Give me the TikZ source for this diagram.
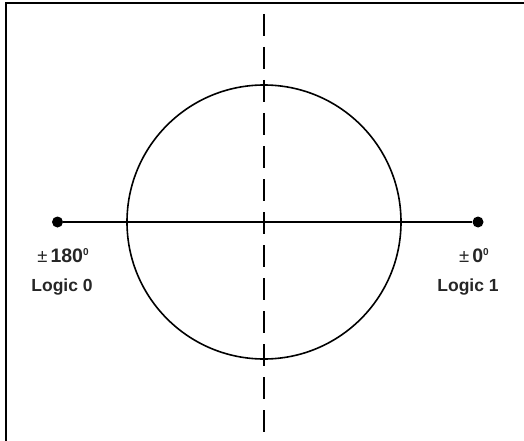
\documentclass[tikz,border=0pt]{standalone}
\usepackage{fontspec}
\setmainfont{Liberation Sans}
\newcommand{\degsup}[1]{\raisebox{6.5pt}{\fontsize{10}{11}\selectfont #1}}
\newcommand{\pmsign}{{\fontsize{18.5}{20}\selectfont\mdseries ±}}
\begin{document}
\begin{tikzpicture}[x=1pt,y=-1pt,
  lbl/.style={font=\bfseries\fontsize{17.5}{20}\selectfont, text=black!85, inner sep=0pt, anchor=base},
  ang/.style={font=\bfseries\fontsize{19.5}{22}\selectfont, text=black!85, inner sep=0pt, anchor=base},
  dotnode/.style={circle, fill=black, inner sep=0pt, minimum size=11pt}]
\useasboundingbox (0,0) rectangle (524,441);
\draw[line width=2pt] (5.5,441) -- (5.5,3.5) -- (524,3.5);
\coordinate (c) at (264,222);
\draw[line width=1.6pt] (c) circle (137);
\node[dotnode] (l) at (57.5,222) {};
\node[dotnode] (r) at (478,222) {};
\draw[line width=2pt] (l) -- (r);
\coordinate (t) at (264,14);
\coordinate (b) at (264,432);
\draw[line width=2pt, dash pattern=on 22pt off 11pt] (t) -- (b);
\node[ang] (a1) at (63,262) {\pmsign\hspace{3pt}180\degsup{0}};
\node[lbl] (a2) at (62,291) {Logic 0};
\node[ang] (b1) at (474,262) {\pmsign\hspace{3pt}0\degsup{0}};
\node[lbl] (b2) at (468,291) {Logic 1};
\end{tikzpicture}
\end{document}
